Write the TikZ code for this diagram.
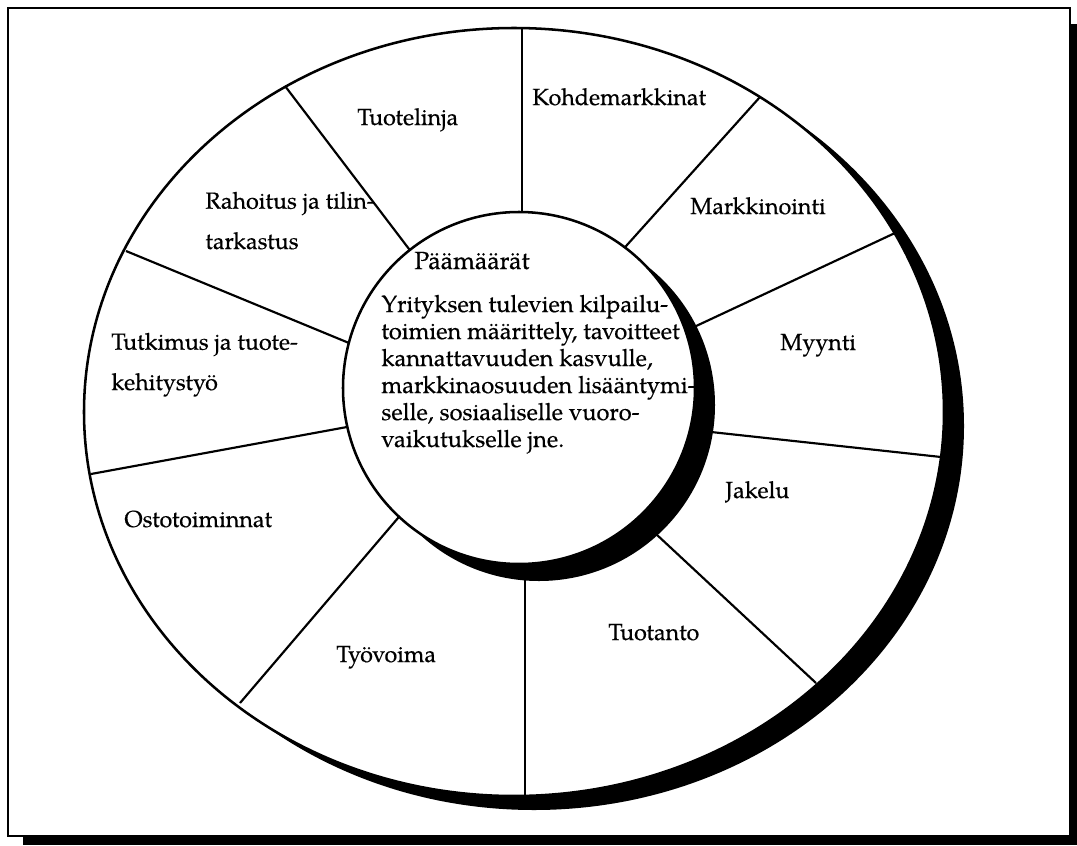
\documentclass[tikz,border=0pt]{standalone}
\usepackage{fontspec}
\setmainfont[FakeBold=0.4]{TeX Gyre Pagella}
\begin{document}
\begin{tikzpicture}[x=0.5333pt,y=-0.5333pt,
  rim/.style={line width=1.35pt},
  spoke/.style={line width=1.15pt, shorten >=-12pt},
  lbl/.style={anchor=base west, inner sep=0pt, align=left,
    font=\fontsize{12.4}{21.5}\selectfont},
  body/.style={anchor=base west, inner sep=0pt, align=left,
    font=\fontsize{12.6}{14.4}\selectfont}]
\useasboundingbox (0,0) rectangle (1077,845);

% page frame with its drop shadow
\fill (23,836) rectangle (1077,845);
\fill (1070,24) rectangle (1077,845);
\draw[line width=0.9pt] (8,8) rectangle (1070,836);

% outer ring with shadow
\coordinate (oc) at (514,412);
\fill ([shift={(20,14)}]oc) ellipse [x radius=430, y radius=384];
\filldraw[fill=white, rim] (oc) ellipse [x radius=430, y radius=384];

% spoke end points: o* on the outer ring, i* at the hub
\coordinate (o1) at (522,28);   \coordinate (i1) at (522,212);
\coordinate (o2) at (760,97);   \coordinate (i2) at (627,245);
\coordinate (o3) at (895,233);  \coordinate (i3) at (694,327);
\coordinate (o4) at (941,457);  \coordinate (i4) at (711,432);
\coordinate (o5) at (816,683);  \coordinate (i5) at (656,534);
\coordinate (o6) at (525,796);  \coordinate (i6) at (525,582);
\coordinate (o7) at (240,703);  \coordinate (i7) at (398,518);
\coordinate (o8) at (91,474);   \coordinate (i8) at (347,427);
\coordinate (o9) at (126,251);  \coordinate (i9) at (349,343);
\coordinate (o10) at (285,86);  \coordinate (i10) at (409,249);
\foreach \k in {1,...,10} \draw[spoke] (o\k) -- (i\k);

% hub with shadow
\coordinate (ic) at (519,388);
\fill ([shift={(20,17)}]ic) circle [radius=176];
\filldraw[fill=white, rim] (ic) circle [radius=176];

% sector labels (multi-line ones sit on their last line)
\node[lbl] (tl) at (357,125) {Tuotelinja};
\node[lbl] (km) at (532,105) {Kohdemarkkinat};
\node[lbl] (mk) at (690,214) {Markkinointi};
\node[lbl] (my) at (780,350) {Myynti};
\node[lbl] (ja) at (725,498) {Jakelu};
\node[lbl] (tu) at (608,640) {Tuotanto};
\node[lbl] (tv) at (336,662) {Työvoima};
\node[lbl] (ot) at (124,527) {Ostotoiminnat};
\node[lbl] (tk) at (111,390) {Tutkimus ja tuote-\\kehitystyö};
\node[lbl] (ra) at (205,249) {Rahoitus ja tilin-\\tarkastus};

% hub text
\node[lbl, font=\fontsize{13.2}{14.4}\selectfont] (pm) at (414,269) {Päämäärät};
\node[body] (goal) at (381,447) {Yrityksen tulevien kilpailu-\\toimien määrittely, tavoitteet\\kannattavuuden kasvulle,\\markkinaosuuden lisääntymi-\\selle, sosiaaliselle vuoro-\\vaikutukselle jne.};
\end{tikzpicture}
\end{document}
